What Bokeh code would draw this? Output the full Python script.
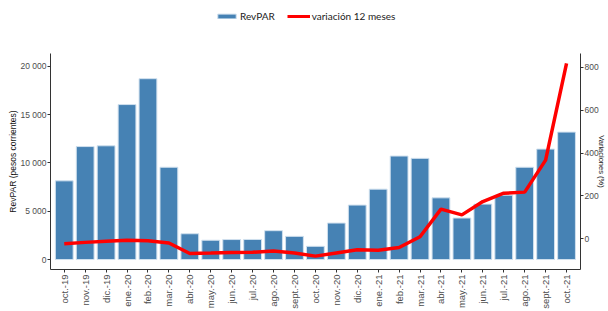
from bokeh.plotting import figure
from bokeh.layouts import column
from bokeh.models import Range1d, LinearAxis, Legend, LegendItem, CustomJSTickFormatter, FixedTicker, ColumnDataSource
from bokeh.embed import file_html
from bokeh.resources import INLINE
import math

months = ["oct.-19", "nov.-19", "dic.-19", "ene.-20", "feb.-20", "mar.-20", "abr.-20", "may.-20",
          "jun.-20", "jul.-20", "ago.-20", "sept.-20", "oct.-20", "nov.-20", "dic.-20", "ene.-21",
          "feb.-21", "mar.-21", "abr.-21", "may.-21", "jun.-21", "jul.-21", "ago.-21", "sept.-21", "oct.-21"]
revpar = [8150, 11700, 11780, 16050, 18730, 9560, 2670, 2000, 2070, 2080, 2990, 2400, 1370, 3780,
          5640, 7290, 10720, 10480, 6390, 4300, 5740, 6670, 9560, 11440, 13200]
variacion = [-22, -16, -11, -6, -8, -19, -68, -66, -63, -62, -56, -65, -80, -65, -50, -53, -40, 10,
             139, 112, 174, 213, 218, 367, 818]
left_ticks = [0, 5000, 10000, 15000, 20000]
right_ticks = [0, 200, 400, 600, 800]

BAR_FILL = "#4682B4"
BAR_LINE = "#d0e0ee"
LINE_COLOR = "#ff0000"
FONT = "Liberation Sans"

idx = list(range(len(months)))
src = ColumnDataSource(dict(x=idx, revpar=revpar, var=variacion))

# ---- legend strip on top ----
LEG_H = 40
pl = figure(width=608, height=LEG_H, output_backend="svg", toolbar_location=None,
            x_axis_location=None, y_axis_location=None, x_range=Range1d(0, 1), y_range=Range1d(0, 1),
            min_border=0, outline_line_color=None)
pl.xgrid.visible = False
pl.ygrid.visible = False
lb = pl.vbar(x="x", top="revpar", width=0.85, source=src, fill_color=BAR_FILL, line_color=BAR_LINE,
             visible=False)
ll = pl.line(x="x", y="var", source=src, line_color=LINE_COLOR, line_width=3, visible=False)
legend = Legend(items=[LegendItem(label="RevPAR", renderers=[lb]),
                       LegendItem(label="variación 12 meses", renderers=[ll])],
                orientation="horizontal", location=(165, 18),
                label_text_font="Lato", label_text_font_size="10px", label_text_color="#222222",
                glyph_width=23, glyph_height=6, label_standoff=2, spacing=12,
                padding=2, margin=0, border_line_color=None, background_fill_alpha=0,
                inactive_fill_alpha=0)
pl.add_layout(legend, "center")

# ---- main chart ----
p = figure(width=608, height=311 - LEG_H, output_backend="svg", toolbar_location=None,
           x_range=Range1d(-0.657, len(months) - 1 + 0.667), y_range=Range1d(-1031, 21340),
           min_border_left=50, min_border_right=26, min_border_top=53 - LEG_H, min_border_bottom=41)
p.extra_y_ranges = {"var": Range1d(-142.3, 863.5)}

bars = p.vbar(x="x", top="revpar", width=0.85, source=src, fill_color=BAR_FILL,
              line_color=BAR_LINE, line_width=1)
line = p.line(x="x", y="var", source=src, y_range_name="var", line_color=LINE_COLOR, line_width=3.5)

p.xgrid.visible = False
p.ygrid.visible = False
p.outline_line_color = None
p.background_fill_color = "white"
p.border_fill_color = "white"

xa = p.xaxis[0]
xa.ticker = FixedTicker(ticks=idx)
xa.major_label_overrides = {i: m for i, m in enumerate(months)}
xa.major_label_orientation = math.pi / 2
xa.major_label_text_font = FONT
xa.major_label_text_font_size = "9.5px"
xa.major_label_text_color = "#4d4d4d"
xa.major_label_standoff = 2
xa.axis_line_color = "#333333"
xa.major_tick_line_color = "#333333"
xa.major_tick_out = 3
xa.major_tick_in = 0
xa.minor_tick_line_color = None

ya = p.yaxis[0]
ya.ticker = FixedTicker(ticks=left_ticks)
ya.formatter = CustomJSTickFormatter(code="return tick.toFixed(0).replace(/\\B(?=(\\d{3})+(?!\\d))/g, ' ');")
ya.axis_label = "RevPAR (pesos corrientes)"
ya.axis_label_text_font = FONT
ya.axis_label_text_font_size = "8.5px"
ya.axis_label_text_font_style = "normal"
ya.axis_label_text_color = "#111111"
ya.axis_label_standoff = 0
ya.major_label_text_font = FONT
ya.major_label_text_font_size = "8.5px"
ya.major_label_text_color = "#4d4d4d"
ya.major_label_standoff = 1
ya.axis_line_color = "#333333"
ya.major_tick_line_color = "#333333"
ya.major_tick_out = 3
ya.major_tick_in = 0
ya.minor_tick_line_color = None

ra = LinearAxis(y_range_name="var", ticker=FixedTicker(ticks=right_ticks))
ra.axis_label = "Variaciones (%)"
ra.axis_label_text_font = FONT
ra.axis_label_text_font_size = "7.5px"
ra.axis_label_text_font_style = "normal"
ra.axis_label_text_color = "#111111"
ra.axis_label_standoff = -5
ra.major_label_text_font = FONT
ra.major_label_text_font_size = "8.5px"
ra.major_label_text_color = "#4d4d4d"
ra.major_label_standoff = 1
ra.axis_line_color = "#333333"
ra.major_tick_line_color = "#333333"
ra.major_tick_out = 3
ra.major_tick_in = 0
ra.minor_tick_line_color = None
p.add_layout(ra, "right")

layout = column(pl, p, spacing=0)
open("out.html", "w").write(file_html(layout, INLINE))
